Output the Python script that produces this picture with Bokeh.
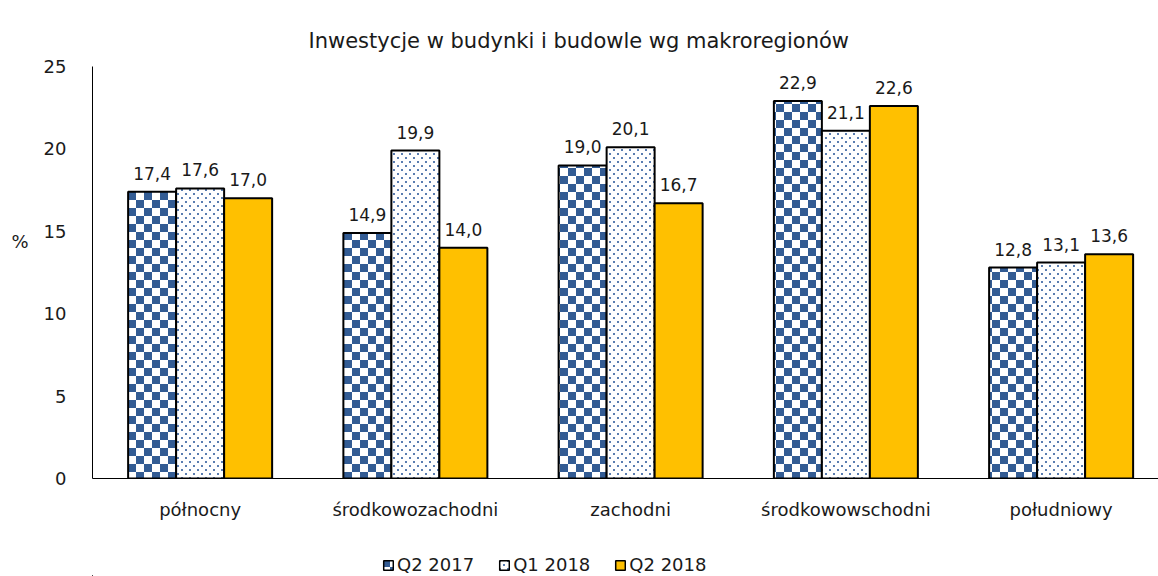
from bokeh.plotting import figure
from bokeh.layouts import column
from bokeh.core.properties import value
from bokeh.models import (ColumnDataSource, Range1d, FixedTicker, LabelSet, LinearAxis,
                          Legend, LegendItem, CanvasTexture)
from bokeh.embed import file_html
from bokeh.resources import INLINE

# Investment in buildings and structures by macro-region (%)
regions = ["północny", "środkowozachodni", "zachodni", "środkowowschodni", "południowy"]
series = ["Q2 2017", "Q1 2018", "Q2 2018"]
q2_2017 = [17.4, 14.9, 19.0, 22.9, 12.8]
q1_2018 = [17.6, 19.9, 20.1, 21.1, 13.1]
q2_2018 = [17.0, 14.0, 16.7, 22.6, 13.6]
y_ticks = [0, 5, 10, 15, 20, 25]

FONT = "DejaVu Sans"
TEXT = "#1a1a1a"
BLUE = "#335C94"
GOLD = "#FFC000"
W = 1158

# Checkerboard (8 px cells) and staggered-dot fills, drawn on their own tile canvas
checker = CanvasTexture(code="""
const s = 16, h = 8;
const c = ctx.canvas; c.width = s; c.height = s;
ctx.setTransform(1, 0, 0, 1, 0, 0);
ctx.fillStyle = '#ffffff'; ctx.fillRect(0, 0, s, s);
ctx.fillStyle = '#335C94';
ctx.fillRect(0, 0, h, h); ctx.fillRect(h, h, h, h);
""", repetition="repeat")
dots = CanvasTexture(code="""
const s = 8, h = 4;
const c = ctx.canvas; c.width = s; c.height = s;
ctx.setTransform(1, 0, 0, 1, 0, 0);
ctx.fillStyle = '#ffffff'; ctx.fillRect(0, 0, s, s);
ctx.fillStyle = '#5A7DB0';
ctx.fillRect(1, 1, 2, 2); ctx.fillRect(1 + h, 1 + h, 2, 2);
""", repetition="repeat")

n_cat = len(regions)
bar_w = 0.223
offsets = [-bar_w, 0.0, bar_w]
centers = [i + 0.5 for i in range(n_cat)]

p = figure(width=W, height=522, output_backend="svg", toolbar_location=None,
           x_range=Range1d(0, 4.9524), y_range=Range1d(0, 25),
           min_border_left=92, min_border_right=0, min_border_top=66,
           min_border_bottom=44)
p.outline_line_color = None
p.xgrid.visible = False
p.ygrid.visible = False

# strip below the chart that only holds the legend
lg = figure(width=W, height=54, output_backend="svg", toolbar_location=None,
            x_range=Range1d(100, 101), y_range=Range1d(100, 101),
            min_border=0, x_axis_type=None, y_axis_type=None)
lg.outline_line_color = None
lg.xgrid.visible = False
lg.ygrid.visible = False

styles = [
    dict(fill_color="white", hatch_pattern=value("checker"),
         hatch_extra={"checker": checker}, hatch_color=BLUE, hatch_scale=16),
    dict(fill_color="white", hatch_pattern=value("dots"),
         hatch_extra={"dots": dots}, hatch_color=BLUE, hatch_scale=8),
    dict(fill_color=GOLD),
]

legend_items = []
label_x, label_y, label_t = [], [], []
for name, vals, off, st in zip(series, [q2_2017, q1_2018, q2_2018], offsets, styles):
    xs = [c + off for c in centers]
    src = ColumnDataSource(dict(x=xs, top=vals))
    p.vbar(x="x", top="top", width=bar_w, bottom=0, source=src,
           line_color="black", line_width=2, **st)
    # same series in the legend strip (outside its visible range, swatch only)
    r = lg.vbar(x="x", top="top", width=bar_w, bottom=0, source=src,
                line_color="black", line_width=1.5, **st)
    legend_items.append(LegendItem(label=name, renderers=[r]))
    label_x += xs
    label_y += vals
    label_t += [f"{v:.1f}".replace(".", ",") for v in vals]

labels = LabelSet(x="x", y="y", text="t", y_offset=12, text_align="center",
                  text_baseline="bottom", text_font=value(FONT), text_font_size="17px",
                  text_color=TEXT,
                  source=ColumnDataSource(dict(x=label_x, y=label_y, t=label_t)))
p.add_layout(labels)

# Axes
p.yaxis.ticker = FixedTicker(ticks=y_ticks)
p.yaxis.major_tick_line_color = None
p.yaxis.minor_tick_line_color = None
p.yaxis.axis_line_color = "black"
p.yaxis.major_label_standoff = 20
p.yaxis.major_label_text_font = FONT
p.yaxis.major_label_text_font_size = "18px"
p.yaxis.major_label_text_color = TEXT

# outer left axis carrying only the unit sign
unit_axis = LinearAxis(ticker=FixedTicker(ticks=[14.4]), major_label_overrides={14.4: "%"},
                       axis_line_color=None, major_tick_line_color=None,
                       minor_tick_line_color=None, major_label_standoff=6,
                       major_label_text_font=FONT, major_label_text_font_size="18px",
                       major_label_text_color=TEXT)
p.add_layout(unit_axis, "left")

p.xaxis.ticker = FixedTicker(ticks=centers)
p.xaxis.major_label_overrides = {c: r for c, r in zip(centers, regions)}
p.xaxis.major_tick_line_color = None
p.xaxis.minor_tick_line_color = None
p.xaxis.axis_line_color = "black"
p.xaxis.major_label_standoff = 14
p.xaxis.major_label_text_font = FONT
p.xaxis.major_label_text_font_size = "18px"
p.xaxis.major_label_text_color = TEXT

p.title.text = "Inwestycje w budynki i budowle wg makroregionów"
p.title.align = "left"
p.title.offset = 216
p.title.standoff = 28
p.title.text_font = FONT
p.title.text_font_size = "21px"
p.title.text_font_style = "normal"
p.title.text_color = TEXT

legend = Legend(items=legend_items, orientation="horizontal", location=(290, 1),
                label_text_font=FONT, label_text_font_size="18px",
                label_text_color=TEXT, glyph_width=12, glyph_height=12,
                label_standoff=3, spacing=24, margin=0, padding=2,
                border_line_color=None, background_fill_alpha=0)
lg.add_layout(legend)

open("out.html", "w").write(file_html(column(p, lg, spacing=0), INLINE))
